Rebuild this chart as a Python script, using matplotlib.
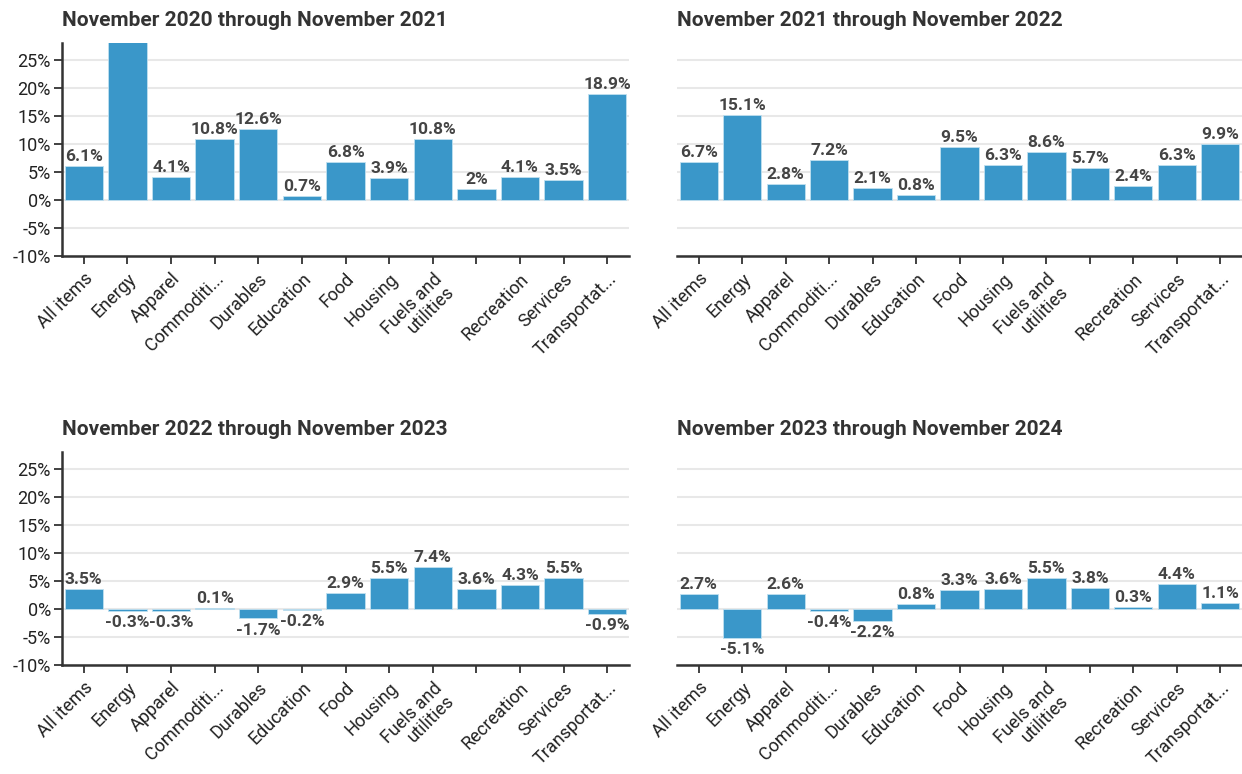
import numpy as np
import matplotlib
matplotlib.use('Agg')
from matplotlib import pyplot as plt

plt.rcParams['font.family'] = ['Roboto', 'DejaVu Sans']

# Category names on the x axis (one label is left blank where it would overlap)
tick_labels = ['All items', 'Energy', 'Apparel', 'Commoditi...', 'Durables',
               'Education', 'Food', 'Housing', 'Fuels and\nutilities', '',
               'Recreation', 'Services', 'Transportat...']

# Year-over-year change (%) for each period
titles = ['November 2020 through November 2021',
          'November 2021 through November 2022',
          'November 2022 through November 2023',
          'November 2023 through November 2024']
change_2021 = [6.1, 33.3, 4.1, 10.8, 12.6, 0.7, 6.8, 3.9, 10.8, 2.0, 4.1, 3.5, 18.9]
change_2022 = [6.7, 15.1, 2.8, 7.2, 2.1, 0.8, 9.5, 6.3, 8.6, 5.7, 2.4, 6.3, 9.9]
change_2023 = [3.5, -0.3, -0.3, 0.1, -1.7, -0.2, 2.9, 5.5, 7.4, 3.6, 4.3, 5.5, -0.9]
change_2024 = [2.7, -5.1, 2.6, -0.4, -2.2, 0.8, 3.3, 3.6, 5.5, 3.8, 0.3, 4.4, 1.1]
series = [change_2021, change_2022, change_2023, change_2024]

yticks = [-10, -5, 0, 5, 10, 15, 20, 25]

bar_color = '#3a97c9'
text_color = '#444444'

fig = plt.figure(figsize=(12.42, 7.74), dpi=100)

# axes boxes in figure pixels: left, top, right, bottom
W, H = 1242, 774
boxes = [(62, 43, 629, 256), (677, 43, 1242, 256),
         (62, 452, 629, 665), (677, 452, 1242, 665)]

for i, (values, title, box) in enumerate(zip(series, titles, boxes)):
    l, t, r, b = box
    ax = fig.add_axes([l / W, 1 - b / H, (r - l) / W, (b - t) / H])
    x = np.arange(len(values))
    ax.bar(x, values, width=0.88, color=bar_color, edgecolor='#bfe0f0',
           linewidth=0.6, zorder=3)

    # value labels, above positive bars and below negative ones
    for xi, v in zip(x, values):
        if v >= 0:
            ax.annotate(f'{v:g}%', (xi, v), xytext=(0, 1.5), textcoords='offset points',
                        ha='center', va='bottom', fontsize=12.5, fontweight='bold',
                        color=text_color, annotation_clip=True, zorder=4)
        else:
            ax.annotate(f'{v:g}%', (xi, v), xytext=(0, -3), textcoords='offset points',
                        ha='center', va='top', fontsize=12.5, fontweight='bold',
                        color=text_color, annotation_clip=True, zorder=4)

    ax.set_xlim(-0.5, len(values) - 0.5)
    ax.set_ylim(-10, 28)
    ax.set_yticks(yticks)
    ax.yaxis.grid(True, color='#e8e8e8', linewidth=1.5, zorder=0)
    ax.set_axisbelow(True)

    ax.set_xticks(x)
    ax.set_xticklabels(tick_labels, rotation=45, ha='right', rotation_mode='anchor',
                       fontsize=13, color='#222222', linespacing=1.0)
    ax.tick_params(axis='x', length=6, width=1.3, color='#333333', pad=4)

    for side in ['top', 'right']:
        ax.spines[side].set_visible(False)
    ax.spines['bottom'].set_color('#333333')
    ax.spines['bottom'].set_linewidth(1.8)

    if i % 2 == 0:
        ax.set_yticklabels([f'{v}%' for v in yticks], fontsize=13, color='#222222')
        ax.tick_params(axis='y', length=6, width=1.3, color='#333333', pad=2)
        ax.spines['left'].set_color('#333333')
        ax.spines['left'].set_linewidth(1.8)
    else:
        ax.set_yticklabels([])
        ax.tick_params(axis='y', length=0)
        ax.spines['left'].set_visible(False)

    ax.set_title(title, loc='left', x=0.0, fontsize=15, fontweight='bold',
                 color='#333333', pad=12)

fig.savefig('out.png', dpi=100)
